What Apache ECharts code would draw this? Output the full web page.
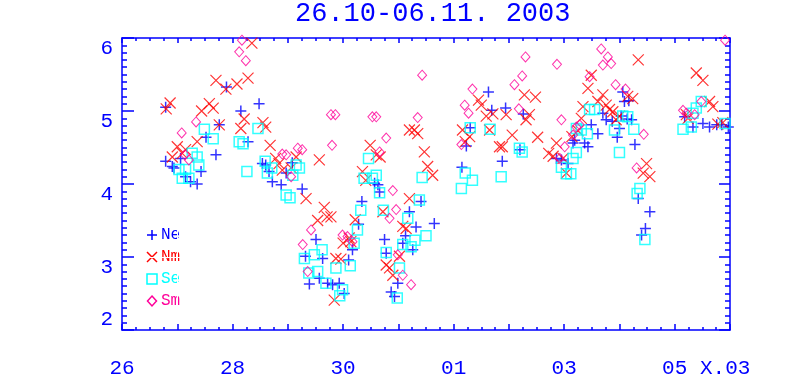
<!DOCTYPE html>
<html>
<head>
<meta charset="utf-8">
<script src="https://cdn.jsdelivr.net/npm/echarts@6/dist/echarts.min.js"></script>
<style>
  html, body { margin: 0; padding: 0; background: #fff; }
  #main { width: 812px; height: 389px; }
</style>
</head>
<body>
<div id="main"></div>
<script>
// days counted from 26.10.2003 00:00
var dayLabels = { 0: "26", 2: "28", 4: "30", 6: "01", 8: "03" };
var lastLabel = "05 X.03";
var seriesNames = ["Ne", "Nm", "Se", "Sm"];

var neData = [
  [0.79, 5.05], [0.79, 4.31], [0.91, 4.24], [0.94, 4.22], [1.06, 4.35], [1.15, 4.10],
  [1.24, 4.03], [1.36, 4.00], [1.43, 4.17], [1.52, 4.64], [1.70, 4.40], [1.76, 4.81],
  [1.89, 5.33], [2.15, 5.00], [2.28, 4.58], [2.48, 5.10], [2.54, 4.28], [2.60, 4.26],
  [2.66, 4.17], [2.72, 4.03], [2.88, 3.99], [2.97, 4.15], [3.08, 4.29], [3.26, 3.93],
  [3.32, 3.01], [3.39, 2.63], [3.51, 3.24], [3.57, 2.71], [3.63, 2.98], [3.72, 2.64],
  [3.81, 2.62], [3.93, 2.64], [4.02, 2.50], [4.10, 2.96], [4.17, 3.10], [4.28, 3.45],
  [4.34, 3.76], [4.57, 4.01], [4.63, 3.99], [4.66, 3.89], [4.75, 3.24], [4.78, 3.05],
  [4.87, 2.52], [4.93, 2.46], [4.99, 2.64], [5.08, 3.19], [5.13, 3.29], [5.20, 3.62],
  [5.26, 3.10], [5.32, 3.41], [5.41, 3.76], [5.65, 3.46], [6.15, 4.23], [6.23, 4.52],
  [6.30, 4.77], [6.63, 5.26], [6.69, 5.01], [6.88, 4.31], [6.94, 5.04], [7.20, 4.47],
  [7.26, 4.96], [7.86, 4.35], [7.95, 4.33], [8.07, 4.28], [8.16, 4.56], [8.19, 4.60],
  [8.37, 4.56], [8.43, 4.51], [8.49, 4.81], [8.61, 4.69], [8.70, 4.97], [8.76, 4.88],
  [8.87, 4.86], [8.96, 4.64], [9.00, 4.76], [9.03, 4.93], [9.06, 5.26], [9.09, 5.13],
  [9.14, 4.89], [9.17, 5.14], [9.22, 4.88], [9.28, 4.54], [9.34, 3.80], [9.40, 3.30],
  [9.47, 3.39], [9.55, 3.62], [10.18, 4.92], [10.33, 4.78], [10.51, 4.83], [10.63, 4.78],
  [10.76, 4.81], [10.85, 4.81], [10.97, 4.78]
];

var nmData = [
  [0.80, 5.03], [0.87, 5.11], [0.91, 4.37], [1.00, 4.51], [1.09, 4.42], [1.15, 4.47],
  [1.36, 4.58], [1.44, 5.00], [1.58, 5.10], [1.65, 5.04], [1.70, 5.42], [1.76, 4.81],
  [1.88, 5.30], [2.08, 5.37], [2.15, 4.76], [2.21, 4.89], [2.28, 5.45], [2.35, 5.93],
  [2.55, 4.84], [2.60, 4.78], [2.68, 4.53], [2.78, 4.35], [2.84, 4.28], [2.90, 4.19],
  [3.06, 4.22], [3.15, 4.37], [3.33, 3.80], [3.54, 3.50], [3.57, 4.33], [3.66, 3.68],
  [3.71, 3.55], [3.78, 3.55], [3.84, 2.41], [3.87, 2.98], [3.96, 2.97], [4.00, 3.19],
  [4.11, 3.26], [4.14, 3.21], [4.22, 3.51], [4.35, 4.17], [4.41, 4.05], [4.49, 4.53],
  [4.60, 4.40], [4.67, 4.37], [4.72, 3.62], [4.78, 2.89], [4.84, 2.85], [4.90, 2.75],
  [5.02, 3.01], [5.08, 3.42], [5.14, 3.39], [5.20, 3.80], [5.20, 4.74], [5.29, 4.74],
  [5.35, 4.69], [5.47, 4.44], [5.53, 4.24], [5.62, 4.12], [6.16, 4.74], [6.21, 4.58],
  [6.29, 4.65], [6.45, 5.15], [6.50, 5.08], [6.59, 4.93], [6.65, 4.74], [6.71, 4.96],
  [6.83, 4.51], [6.88, 4.51], [6.95, 4.95], [7.06, 4.67], [7.28, 5.22], [7.31, 4.88],
  [7.37, 4.95], [7.48, 5.19], [7.52, 4.64], [7.72, 4.42], [7.80, 4.38], [7.86, 4.56],
  [7.98, 4.35], [8.04, 4.15], [8.14, 4.65], [8.25, 4.73], [8.31, 4.90], [8.34, 5.06],
  [8.43, 5.31], [8.49, 5.49], [8.61, 5.13], [8.70, 5.22], [8.76, 5.08], [8.82, 5.02],
  [8.88, 4.99], [8.94, 4.88], [9.00, 4.93], [9.15, 5.20], [9.24, 5.17], [9.34, 5.70],
  [9.43, 4.15], [9.49, 4.28], [9.55, 4.10], [10.21, 4.95], [10.24, 4.90], [10.39, 5.52],
  [10.51, 5.42], [10.63, 5.13], [10.69, 5.06], [10.78, 4.82], [10.87, 4.84]
];

var seData = [
  [1.03, 4.20], [1.09, 4.08], [1.15, 4.20], [1.21, 4.08], [1.27, 4.42], [1.36, 4.37],
  [1.39, 4.26], [1.49, 4.75], [1.65, 4.62], [2.12, 4.58], [2.19, 4.55], [2.26, 4.17],
  [2.46, 4.76], [2.59, 4.31], [2.63, 4.15], [2.71, 4.22], [2.97, 3.85], [3.04, 3.81],
  [3.09, 4.12], [3.15, 4.26], [3.21, 4.22], [3.30, 2.98], [3.38, 2.78], [3.48, 3.03],
  [3.54, 2.80], [3.62, 3.10], [3.69, 2.64], [3.87, 2.85], [3.94, 2.47], [3.99, 2.55],
  [4.13, 2.88], [4.20, 3.19], [4.26, 3.37], [4.32, 3.64], [4.38, 4.08], [4.46, 4.35],
  [4.53, 4.08], [4.60, 4.12], [4.66, 3.88], [4.73, 3.64], [4.78, 3.06], [4.98, 2.44],
  [5.02, 2.85], [5.08, 3.17], [5.17, 3.53], [5.23, 3.14], [5.30, 3.23], [5.38, 3.78],
  [5.43, 4.09], [5.50, 3.29], [6.14, 3.94], [6.21, 4.15], [6.30, 4.77], [6.34, 4.05],
  [6.66, 4.75], [6.86, 4.10], [7.19, 4.49], [7.24, 4.44], [7.95, 4.23], [8.04, 4.14],
  [8.12, 4.14], [8.16, 4.35], [8.22, 4.43], [8.22, 4.76], [8.31, 4.74], [8.42, 4.69],
  [8.46, 5.02], [8.55, 5.02], [8.91, 4.74], [9.00, 4.43], [9.06, 4.93], [9.15, 4.92],
  [9.26, 4.75], [9.32, 3.87], [9.37, 3.94], [9.46, 3.24], [10.15, 4.75], [10.30, 4.78],
  [10.33, 4.97], [10.39, 5.04], [10.48, 5.13], [10.91, 4.83]
];

var smData = [
  [1.08, 4.70], [1.14, 4.40], [1.21, 4.33], [1.34, 4.85], [2.12, 5.81], [2.17, 5.97],
  [2.24, 5.69], [2.90, 4.41], [2.97, 4.40], [3.06, 4.10], [3.18, 4.49], [3.26, 4.47],
  [3.27, 3.17], [3.36, 2.80], [3.42, 3.37], [3.78, 4.95], [3.80, 4.53], [3.86, 4.95],
  [3.99, 3.30], [4.08, 3.28], [4.17, 3.21], [4.53, 4.92], [4.60, 4.92], [4.66, 4.44],
  [4.78, 4.63], [4.84, 3.53], [4.90, 3.91], [4.96, 3.65], [4.99, 3.03], [5.08, 2.75],
  [5.23, 2.62], [5.35, 4.91], [5.43, 5.49], [6.14, 4.54], [6.20, 5.08], [6.27, 4.97],
  [6.34, 5.30], [7.10, 5.36], [7.18, 5.03], [7.24, 5.48], [7.30, 5.74], [7.87, 5.64],
  [7.92, 4.35], [7.95, 4.88], [8.01, 4.51], [8.16, 4.67], [8.22, 4.78], [8.28, 4.81],
  [8.46, 5.47], [8.67, 5.85], [8.70, 5.63], [8.79, 5.74], [8.85, 5.65], [8.93, 5.36],
  [9.11, 5.30], [9.31, 4.22], [9.44, 4.68], [10.15, 5.01], [10.21, 4.97], [10.36, 4.95],
  [10.48, 5.13], [10.91, 5.97]
];

var BLUE = "#0000ff", RED = "#ff0000", CYAN = "#00ffff", PINK = "#ff0099";
var COLORS = [BLUE, RED, CYAN, PINK];
var FONT = "'Liberation Mono', 'DejaVu Sans Mono', monospace";

var myChart = echarts.init(document.getElementById("main"));

function tickAxis(pos, showLabel, major, minor) {
  return {
    type: "value",
    position: pos,
    axisLine: { show: true, onZero: false, lineStyle: { color: BLUE, width: 1.5 } },
    axisTick: { show: true, inside: true, length: major, lineStyle: { color: BLUE, width: 1.5 } },
    minorTick: { show: true, length: minor, lineStyle: { color: BLUE, width: 1.5 } },
    splitLine: { show: true, lineStyle: { color: "#ffffff", width: 1 } },
    axisLabel: { show: showLabel }
  };
}

var xBottom = tickAxis("bottom", true, 6, 3);
xBottom.min = 0; xBottom.max = 11; xBottom.interval = 1;
xBottom.minorTick.splitNumber = 4;
xBottom.axisLabel = {
  show: true, color: BLUE, fontSize: 21, fontFamily: FONT, margin: 28,
  formatter: function (v) {
    if (v === 10) return "{p|}" + lastLabel;
    return dayLabels[v] || "";
  },
  rich: { p: { width: 63 } }
};
var xTop = tickAxis("top", false, 5, 3);
xTop.min = 0; xTop.max = 11; xTop.interval = 1;
xTop.minorTick.splitNumber = 4;

var yLeft = tickAxis("left", true, 12, 5);
yLeft.min = 2; yLeft.max = 6; yLeft.interval = 1;
yLeft.minorTick.splitNumber = 10;
yLeft.axisLabel = {
  show: true, color: BLUE, fontSize: 21, fontFamily: FONT, margin: 9,
  verticalAlign: "top", verticalAlignMinLabel: "bottom", verticalAlignMaxLabel: "top"
};
var yRight = tickAxis("right", false, 11, 5);
yRight.min = 2; yRight.max = 6; yRight.interval = 1;
yRight.minorTick.splitNumber = 10;

function markStyle(color, width) {
  return { color: "transparent", borderColor: color, borderWidth: width };
}

// key drawn with graphic elements, one row every 22px
var keyX = 152, keyY = 235, keyStep = 22;
var keyMarks = [
  { type: "polyline", shape: { points: [[-5, 0], [5, 0]] } },
  { type: "polyline", shape: { points: [[-5, -5], [5, 5]] } },
  { type: "rect", shape: { x: -5, y: -5, width: 10, height: 10 } },
  { type: "polygon", shape: { points: [[0, -5], [4.5, 0], [0, 5], [-4.5, 0]] } }
];
var keyElements = [];
seriesNames.forEach(function (name, i) {
  var cy = keyY + i * keyStep;
  var mark = keyMarks[i];
  keyElements.push({
    type: mark.type, x: keyX, y: cy, shape: mark.shape,
    style: { fill: "none", stroke: COLORS[i], lineWidth: 1.5 }
  });
  if (i === 0) {
    keyElements.push({ type: "polyline", x: keyX, y: cy, shape: { points: [[0, -5], [0, 5]] },
      style: { fill: "none", stroke: COLORS[i], lineWidth: 1.5 } });
  }
  if (i === 1) {
    keyElements.push({ type: "polyline", x: keyX, y: cy, shape: { points: [[5, -5], [-5, 5]] },
      style: { fill: "none", stroke: COLORS[i], lineWidth: 1.5 } });
  }
  keyElements.push({
    type: "text", x: keyX + 9, y: cy,
    style: { text: name, fill: COLORS[i], font: "16px " + FONT, verticalAlign: "middle" }
  });
});

var option = {
  animation: false,
  title: {
    text: "26.10-06.11. 2003",
    left: 290, top: -5,
    textStyle: { color: BLUE, fontSize: 27, fontWeight: "normal", fontFamily: FONT }
  },
  grid: { left: 122, right: 82, top: 38, bottom: 59 },
  graphic: { elements: keyElements },
  xAxis: [xBottom, xTop],
  yAxis: [yLeft, yRight],
  series: [
    { name: "Ne", type: "scatter", data: neData, symbol: "path://M0,5L10,5M5,0L5,10",
      symbolSize: 11, itemStyle: markStyle(BLUE, 1.5) },
    { name: "Nm", type: "scatter", data: nmData, symbol: "path://M0,0L10,10M10,0L0,10",
      symbolSize: 11, itemStyle: markStyle(RED, 1.2) },
    { name: "Se", type: "scatter", data: seData, symbol: "rect",
      symbolSize: 10, itemStyle: markStyle(CYAN, 1.5) },
    { name: "Sm", type: "scatter", data: smData, symbol: "diamond",
      symbolSize: [9, 10], itemStyle: markStyle(PINK, 1) }
  ]
};

myChart.setOption(option);
</script>
</body>
</html>
